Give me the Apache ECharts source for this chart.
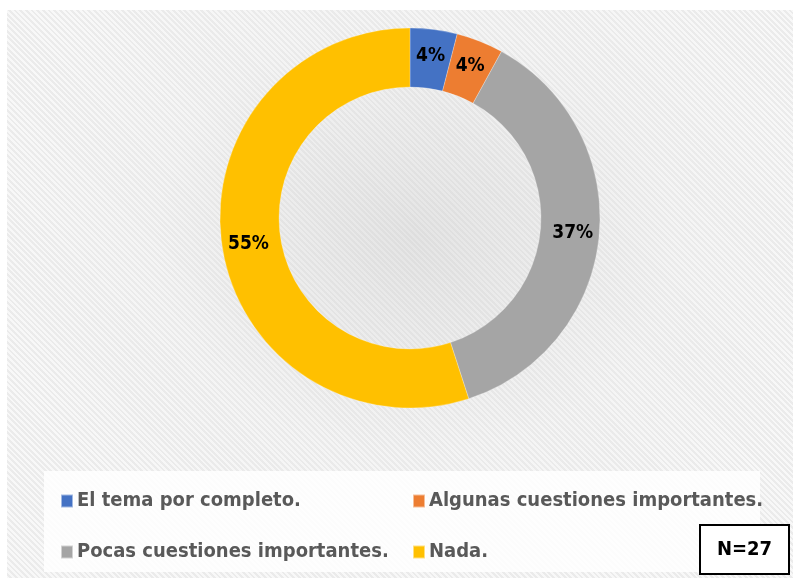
<!DOCTYPE html>
<html><head><meta charset="utf-8">
<script src="https://cdn.jsdelivr.net/npm/echarts@6/dist/echarts.min.js"></script>
<style>
html,body{margin:0;padding:0;background:#fff;}
#bg{position:absolute;left:7px;top:10px;width:786px;height:568px;
background:
 radial-gradient(ellipse at 52% 40%, rgba(205,205,205,0.45) 0%, rgba(230,230,230,0.2) 45%, rgba(255,255,255,0.0) 75%),
 repeating-linear-gradient(45deg, #f8f8f8 0px, #f8f8f8 2px, #ebebeb 2px, #ebebeb 4px);}
#chart{position:absolute;left:0;top:0;width:793px;height:578px;}
</style></head>
<body>
<div id="bg"></div>
<div id="chart"></div>
<script>
const categories = ['El tema por completo.', 'Algunas cuestiones importantes.', 'Pocas cuestiones importantes.', 'Nada.'];
const values = [4, 4, 37, 55];
const colors = ['#4472C4', '#ED7D31', '#A5A5A5', '#FFC000'];
const sampleNote = 'N=27';

const FONT = "'DejaVu Sans Condensed', 'Liberation Sans Narrow', sans-serif";
const chart = echarts.init(document.getElementById('chart'));
const legendPos = [
  {left: 55, top: 486},
  {left: 407, top: 486},
  {left: 55, top: 537},
  {left: 407, top: 537}
];
chart.setOption({
  backgroundColor: 'transparent',
  color: colors,
  graphic: [
    {type: 'rect', shape: {x: 44, y: 471, width: 716, height: 101}, style: {fill: 'rgba(255,255,255,0.85)'}, z: -1},
    {type: 'rect', shape: {x: 700, y: 525, width: 89, height: 49}, style: {fill: '#fff', stroke: '#000', lineWidth: 2}, z: 10},
    {type: 'text', x: 744.5, y: 550, style: {text: sampleNote, fill: '#000', font: 'bold 20px ' + FONT, align: 'center', verticalAlign: 'middle'}, z: 11}
  ],
  legend: categories.map((c, i) => ({
    data: [c], left: legendPos[i].left, top: legendPos[i].top,
    icon: 'rect', itemWidth: 12, itemHeight: 13, itemGap: 0,
    textStyle: {color: '#595959', fontFamily: FONT, fontWeight: 'bold', fontSize: 20, padding: [0, 0, 0, -1]}
  })),
  series: [{
    type: 'pie',
    center: [410, 218],
    radius: [131, 190],
    startAngle: 90,
    clockwise: true,
    avoidLabelOverlap: false,
    emphasis: {disabled: true},
    itemStyle: {borderColor: 'rgba(255,255,255,0.5)', borderWidth: 0.5},
    label: {
      show: true, position: 'inside',
      formatter: p => p.value + '%',
      color: '#000', fontFamily: FONT, fontWeight: 'bold', fontSize: 19
    },
    labelLine: {show: false},
    data: categories.map((c, i) => ({name: c, value: values[i]}))
  }]
});
</script>
</body></html>
